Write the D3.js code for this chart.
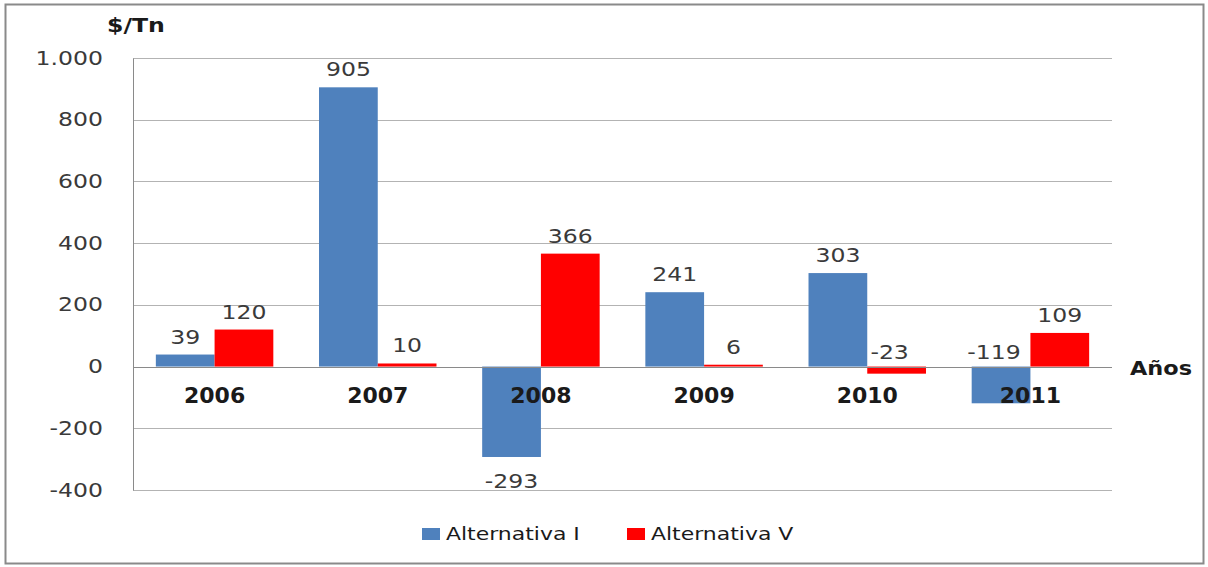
<!DOCTYPE html>
<html>
<head>
<meta charset="utf-8">
<script src="https://cdn.jsdelivr.net/npm/d3@7"></script>
<style>
  html, body { margin: 0; padding: 0; background: #fff; }
  svg text { font-family: "DejaVu Sans", sans-serif; }
</style>
</head>
<body>
<svg id="chart" width="1208" height="567"></svg>
<script>
// Años y valores ($/Tn) de cada alternativa
const years = ["2006", "2007", "2008", "2009", "2010", "2011"];
const altI = [39, 905, -293, 241, 303, -119];
const altV = [120, 10, 366, 6, -23, 109];
const seriesNames = ["Alternativa I", "Alternativa V"];
const seriesColors = ["#4F81BD", "#FF0000"];
const yTicks = [-400, -200, 0, 200, 400, 600, 800, 1000];

const svg = d3.select("#chart");
const W = 1208, H = 567;
const SX = 1.24; // ensanchamiento horizontal del texto

// marco exterior
svg.append("rect")
  .attr("x", 5.5).attr("y", 4.5).attr("width", W - 10).attr("height", H - 8)
  .attr("fill", "#fff").attr("stroke", "#8a8a8a").attr("stroke-width", 2);

const plot = { left: 133, right: 1112, top: 58, bottom: 490 };

const x = d3.scaleBand().domain(years).range([plot.left, plot.right]).paddingInner(0.28).paddingOuter(0.14);
const inner = d3.scaleBand().domain([0, 1]).range([0, x.bandwidth()]);
const y = d3.scaleLinear().domain([-400, 1000]).range([plot.bottom, plot.top]);

const fmt = v => v >= 1000 ? d3.format(",")(v).replace(/,/g, ".") : String(v);

// líneas de cuadrícula
svg.append("g").selectAll("line").data(yTicks).join("line")
  .attr("x1", plot.left).attr("x2", plot.right)
  .attr("y1", d => Math.round(y(d)) + 0.5).attr("y2", d => Math.round(y(d)) + 0.5)
  .attr("stroke", "#b3b3b3").attr("stroke-width", 1);

// eje vertical
const pad = 30;
const yAxis = svg.append("g")
  .attr("transform", `translate(${plot.left},0)`)
  .call(d3.axisLeft(y).tickValues(yTicks).tickSize(0).tickPadding(pad).tickFormat(fmt));
yAxis.select(".domain").attr("stroke", "#8a8a8a");
yAxis.selectAll(".tick text")
  .attr("font-family", "DejaVu Sans").attr("font-size", 19)
  .attr("x", -pad / SX)
  .attr("transform", `scale(${SX},1)`)
  .attr("fill", "#3a3a3a");

// barras
const series = [altI, altV];
const groups = svg.append("g").selectAll("g").data(series).join("g")
  .attr("fill", (d, i) => seriesColors[i]);
groups.each(function (vals, si) {
  d3.select(this).selectAll("rect").data(vals).join("rect")
    .attr("x", (d, i) => x(years[i]) + inner(si))
    .attr("width", inner.bandwidth())
    .attr("y", d => y(Math.max(0, d)))
    .attr("height", d => Math.abs(y(d) - y(0)));
});

// línea del cero
svg.append("line")
  .attr("x1", plot.left).attr("x2", plot.right)
  .attr("y1", Math.round(y(0)) + 0.5).attr("y2", Math.round(y(0)) + 0.5)
  .attr("stroke", "#8a8a8a");

// etiquetas de los años
svg.append("g").selectAll("text").data(years).join("text")
  .attr("x", d => x(d) + x.bandwidth() / 2)
  .attr("y", y(0) + 36)
  .attr("text-anchor", "middle")
  .attr("font-size", 22).attr("font-weight", "bold")
  .attr("fill", "#1a1a1a")
  .text(d => d);

// etiquetas de valor
series.forEach((vals, si) => {
  svg.append("g").selectAll("text").data(vals).join("text")
    .attr("transform", (d, i) => {
      const cx = x(years[i]) + inner(si) + inner.bandwidth() / 2 + (d < 0 && d > -200 ? -7 : 0);
      const cy = d >= 0 ? y(d) - 11 : (d > -200 ? y(0) - 8 : y(d) + 31);
      return `translate(${cx},${cy}) scale(${SX},1)`;
    })
    .attr("text-anchor", "middle")
    .attr("font-size", 19)
    .attr("fill", "#3a3a3a")
    .text(d => d);
});

// títulos de ejes
svg.append("text").attr("transform", "translate(107,32) scale(1.18,1)")
  .attr("font-size", 20).attr("font-weight", "bold")
  .attr("fill", "#1a1a1a").text("$/Tn");
svg.append("text").attr("transform", "translate(1130,375) scale(1.12,1)")
  .attr("font-size", 20).attr("font-weight", "bold")
  .attr("fill", "#1a1a1a").text("Años");

// leyenda
const legend = svg.append("g");
const legendX = [422, 627];
seriesNames.forEach((name, i) => {
  legend.append("rect").attr("x", legendX[i]).attr("y", 528).attr("width", 18).attr("height", 12)
    .attr("fill", seriesColors[i]);
  legend.append("text").attr("transform", `translate(${legendX[i] + 24},540) scale(1.22,1)`)
    .attr("font-size", 18).attr("fill", "#1a1a1a").text(name);
});
</script>
</body>
</html>
